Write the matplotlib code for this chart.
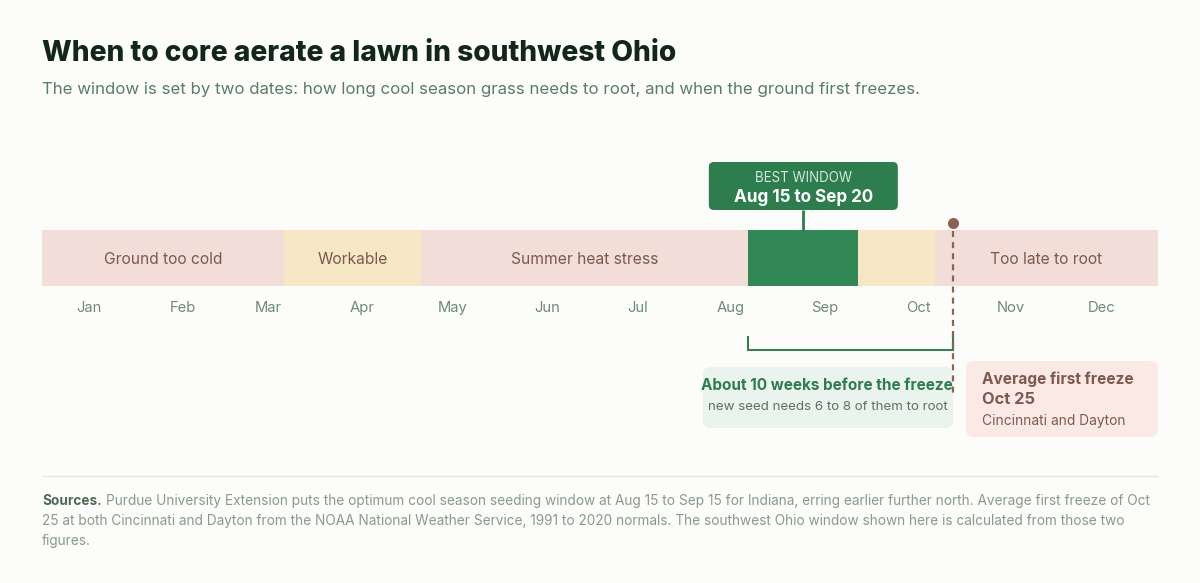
import matplotlib
matplotlib.use("Agg")
import matplotlib.pyplot as plt
from matplotlib.patches import FancyBboxPatch

# ---------------- data ----------------
seg_names = ["Ground too cold", "Workable", "Summer heat stress", "", "", "Too late to root"]
seg_start = [0, 79, 124, 231, 267, 292]     # day of year
seg_end = [79, 124, 231, 267, 292, 365]
seg_kind = ["poor", "fair", "poor", "best", "fair", "poor"]

month_labels = ["Jan", "Feb", "Mar", "Apr", "May", "Jun",
                "Jul", "Aug", "Sep", "Oct", "Nov", "Dec"]
month_pos = [15.4, 46.1, 73.9, 104.7, 134.4, 165.2,
             194.9, 225.3, 256.1, 286.5, 316.9, 346.4]

best_start, best_end = 231, 267
best_label = "Aug 15 to Sep 20"
freeze_day = 298
freeze_label = "Oct 25"

title = "When to core aerate a lawn in southwest Ohio"
subtitle = ("The window is set by two dates: how long cool season grass needs to root, "
            "and when the ground first freezes.")
src_bold = "Sources."
src_lines = [
    "Purdue University Extension puts the optimum cool season seeding window at Aug 15 to Sep 15 "
    "for Indiana, erring earlier further north. Average first freeze of Oct",
    "25 at both Cincinnati and Dayton from the NOAA National Weather Service, 1991 to 2020 normals. "
    "The southwest Ohio window shown here is calculated from those two",
    "figures.",
]

# ---------------- style ----------------
W, H = 1200, 583
BG = "#fcfcfa"
COL = {"poor": "#f2ddd8", "fair": "#f6e7c5", "best": "#328757"}
GREEN = "#2e7d4f"
BROWN = "#8a6356"
plt.rcParams["font.family"] = ["Inter", "DejaVu Sans"]

fig = plt.figure(figsize=(W / 100, H / 100), dpi=100, facecolor=BG)
ov = fig.add_axes([0, 0, 1, 1])
ov.set_xlim(0, W)
ov.set_ylim(H, 0)
ov.axis("off")

X0, X1 = 42, 1158
ax = fig.add_axes([X0 / W, 0, (X1 - X0) / W, 1])
ax.set_xlim(0, 365)
ax.set_ylim(H, 0)
ax.axis("off")
ov.set_zorder(1)
ax.set_zorder(2)
PPD = (X1 - X0) / 365.0

renderer = fig.canvas.get_renderer()


def width(t):
    return t.get_window_extent(renderer=renderer).width


def fit(t, target):
    t.set_fontsize(t.get_fontsize() * target / width(t))
    return t


# ---------------- title ----------------
t = ov.text(42, 61, title, fontsize=19, fontweight=800, color="#13261a",
            ha="left", va="baseline")
fit(t, 634)
t = ov.text(42, 94, subtitle, fontsize=11, color="#5b7d62", ha="left", va="baseline")
fit(t, 875)

# ---------------- bar ----------------
ax.barh(258, [e - s for s, e in zip(seg_start, seg_end)], left=seg_start, height=56,
        color=[COL[k] for k in seg_kind], linewidth=0, zorder=1)

seg_texts = []
for name, s, e in zip(seg_names, seg_start, seg_end):
    if name:
        seg_texts.append(ax.text((s + e) / 2, 264, name, ha="center", va="baseline",
                                 fontsize=10.5, color="#7a5a4e", zorder=3))
fs = seg_texts[0].get_fontsize() * 119 / width(seg_texts[0])
for tt in seg_texts:
    tt.set_fontsize(fs)

mts = []
for lab, p in zip(month_labels, month_pos):
    mts.append(ax.text(p, 311.7, lab, ha="center", va="baseline", fontsize=10,
                       color="#6f8a7c"))
fs = mts[-1].get_fontsize() * 28 / width(mts[-1])
for tt in mts:
    tt.set_fontsize(fs)

# ---------------- best window callout ----------------
mid = (best_start + best_end) / 2
cx = X0 + mid * PPD
ov.add_patch(FancyBboxPatch((cx - 94.5, 162), 189, 48,
                            boxstyle="round,pad=0,rounding_size=5",
                            fc=GREEN, ec="none"))
t = ov.text(cx, 182.3, "BEST WINDOW", ha="center", va="baseline", fontsize=9.4,
            color="#d3e7da")
fit(t, 97)
t = ov.text(cx, 202, best_label, ha="center", va="baseline", fontsize=13,
            fontweight="bold", color="white")
fit(t, 140)
ax.vlines(mid, 210, 230, color=GREEN, lw=2, zorder=4)

# ---------------- bracket ----------------
ax.plot([best_start, best_start, freeze_day, freeze_day], [337, 350, 350, 337],
        color="#3a7d55", lw=1.5, solid_joinstyle="miter", zorder=3)

# green annotation box
ov.add_patch(FancyBboxPatch((703, 367), 250, 61, boxstyle="round,pad=0,rounding_size=8",
                            fc="#ebf3ee", ec="none"))
t = ov.text(827, 390, "About 10 weeks before the freeze", ha="center", va="baseline",
            fontsize=10, fontweight="bold", color=GREEN)
fit(t, 252)
t = ov.text(828, 410, "new seed needs 6 to 8 of them to root", ha="center",
            va="baseline", fontsize=9.5, color="#5e7064")
fit(t, 240)

# ---------------- freeze marker ----------------
ax.vlines(freeze_day, 231, 395, color=BROWN, lw=1.6, linestyles=(0, (2.7, 2.3)), zorder=5)
ax.plot([freeze_day], [223], "o", ms=8, color=BROWN, mec="none", zorder=6)

ov.add_patch(FancyBboxPatch((966, 361), 192, 76, boxstyle="round,pad=0,rounding_size=8",
                            fc="#fbe9e6", ec="none"))
t = ov.text(982, 384, "Average first freeze", ha="left", va="baseline", fontsize=10,
            fontweight="bold", color="#7d5a4d")
fit(t, 152)
t = ov.text(982, 404, freeze_label, ha="left", va="baseline", fontsize=12,
            fontweight="bold", color="#7d5a4d")
fit(t, 53)
t = ov.text(982, 425, "Cincinnati and Dayton", ha="left", va="baseline", fontsize=9.7,
            color="#7d5a4d")
fit(t, 142)

# ---------------- sources ----------------
ov.hlines(476, 42, 1158, color="#e6e6e1", lw=1)
fs0 = 9.5
tb = ov.text(42, 505, src_bold, ha="left", va="baseline", fontsize=fs0,
             fontweight="bold", color="#4d6b55")
tr = ov.text(42, 505, src_lines[0], ha="left", va="baseline", fontsize=fs0, color="#8a9a8f")
gap = 4
tot = width(tb) + gap + width(tr)
fs = fs0 * (1106 - gap) / (tot - gap)
tb.set_fontsize(fs)
tr.set_fontsize(fs)
tr.set_x(42 + width(tb) + gap)
for i, line in enumerate(src_lines[1:]):
    ov.text(42, 525 + 20 * i, line, ha="left", va="baseline", fontsize=fs,
            color="#8a9a8f")

fig.savefig("out.png", dpi=100, facecolor=BG)
